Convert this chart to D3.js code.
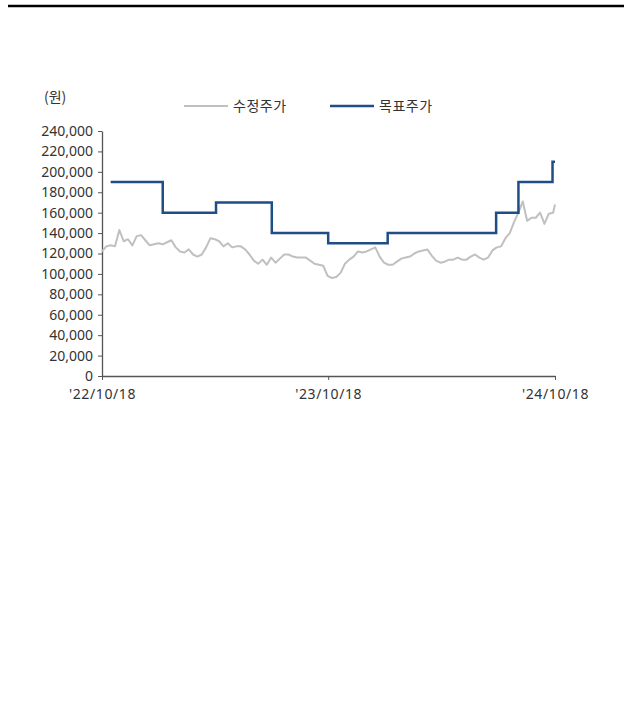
<!DOCTYPE html>
<html>
<head>
<meta charset="utf-8">
<script src="https://cdn.jsdelivr.net/npm/d3@7"></script>
<style>
  body { margin: 0; background: #fff; font-family: "Noto Sans CJK KR", "Noto Sans", sans-serif; }
  .axis text { font-size: 14px; fill: #333; font-family: "Noto Sans", "Noto Sans CJK KR", sans-serif; }
  .xaxis text { letter-spacing: 0.6px; }
  .axis path, .axis line { stroke: #555; }
</style>
</head>
<body>
<svg id="chart" width="632" height="703"></svg>
<script>
// weekly adjusted close (won), starting 2022-10-18, last point on 2024-10-18
const priceStart = "2022-10-18";
const priceEnd = "2024-10-18";
const priceValues = [
  122000, 127000, 128000, 127000, 143000, 132000, 134000, 128000, 137000, 138000,
  133000, 128000, 129000, 130000, 129000, 131000, 133000, 126000, 122000, 121000,
  124000, 119000, 117000, 119000, 126000, 135000, 134000, 132000, 127000, 130000,
  126000, 127000, 127000, 124000, 119000, 113000, 110000, 114000, 109000, 116000,
  111000, 115000, 119000, 119000, 117000, 116000, 116000, 116000, 113000, 110000,
  109000, 108000, 98000, 96000, 97000, 101000, 110000, 114000, 117000, 122000,
  121000, 122000, 124000, 126000, 117000, 111000, 109000, 109000, 112000, 115000,
  116000, 117000, 120000, 122000, 123000, 124000, 118000, 113000, 111000, 112000,
  114000, 114000, 116000, 114000, 114000, 117000, 119000, 116000, 114000, 116000,
  123000, 126000, 127000, 135000, 140000, 151000, 160000, 171000, 152000, 155000,
  155000, 160000, 149000, 159000, 160000, 168000
];

// target price changes
const targetDates = [
  "2022-11-01", "2023-01-24", "2023-04-20", "2023-07-19", "2023-10-18",
  "2024-01-22", "2024-07-15", "2024-08-20", "2024-10-14", "2024-10-18"
];
const targetValues = [
  190000, 160000, 170000, 140000, 130000,
  140000, 160000, 190000, 210000, 210000
];

const yTicks = d3.range(0, 240001, 20000);
const xTickLabels = ["2022-10-18", "2023-10-18", "2024-10-18"];
const seriesNames = ["수정주가", "목표주가"];
const seriesColors = ["#c0c0c0", "#1f4e87"];

const parse = d3.timeParse("%Y-%m-%d");
const start = parse(priceStart), end = parse(priceEnd);
const prices = priceValues.map((v, i) => {
  let d = d3.timeDay.offset(start, 7 * i);
  if (d > end) d = end;
  return { date: d, value: v };
});
const targets = targetDates.map((d, i) => ({ date: parse(d), value: targetValues[i] }));

const svg = d3.select("#chart");
const margin = { left: 102, top: 131, right: 77, bottom: 327 };
const width = 632 - margin.left - margin.right;
const height = 703 - margin.top - margin.bottom;

// top rule
svg.append("line").attr("x1", 8).attr("x2", 624).attr("y1", 6).attr("y2", 6)
  .attr("stroke", "#000").attr("stroke-width", 2.5);

const x = d3.scaleTime().domain([start, end]).range([0, width]);
const y = d3.scaleLinear().domain([0, 240000]).range([height, 0]);

const g = svg.append("g").attr("transform", `translate(${margin.left},${margin.top})`);

g.append("g").attr("class", "axis")
  .call(d3.axisLeft(y).tickValues(yTicks).tickSize(4).tickSizeOuter(0).tickPadding(5)
    .tickFormat(d3.format(",")))
  .call(a => a.select(".domain").attr("stroke-width", 1.3));

g.append("g").attr("class", "axis xaxis").attr("transform", `translate(0,${height})`)
  .call(d3.axisBottom(x).tickValues(xTickLabels.map(parse)).tickSize(4).tickSizeOuter(0).tickPadding(9)
    .tickFormat(d3.timeFormat("'%y/%m/%d")))
  .call(a => a.select(".domain").attr("stroke-width", 1.3));

g.append("path").datum(prices)
  .attr("fill", "none").attr("stroke", seriesColors[0]).attr("stroke-width", 2)
  .attr("stroke-linejoin", "round")
  .attr("d", d3.line().x(d => x(d.date)).y(d => y(d.value)));

g.append("path").datum(targets)
  .attr("fill", "none").attr("stroke", seriesColors[1]).attr("stroke-width", 2.5)
  .attr("d", d3.line().curve(d3.curveStepAfter).x(d => x(d.date)).y(d => y(d.value)));

// unit label
svg.append("text").attr("x", 44).attr("y", 102).attr("font-size", 14).attr("fill", "#333")
  .text("(원)");

// legend
const legendX = [184, 330];
seriesNames.forEach((name, i) => {
  const lg = svg.append("g").attr("transform", `translate(${legendX[i]},106)`);
  lg.append("line").attr("x1", 0).attr("x2", 44).attr("stroke", seriesColors[i])
    .attr("stroke-width", i === 0 ? 2 : 2.5);
  lg.append("text").attr("x", 49).attr("y", 5).attr("font-size", 14).attr("fill", "#333")
    .attr("letter-spacing", 0.5).text(name);
});
</script>
</body>
</html>
